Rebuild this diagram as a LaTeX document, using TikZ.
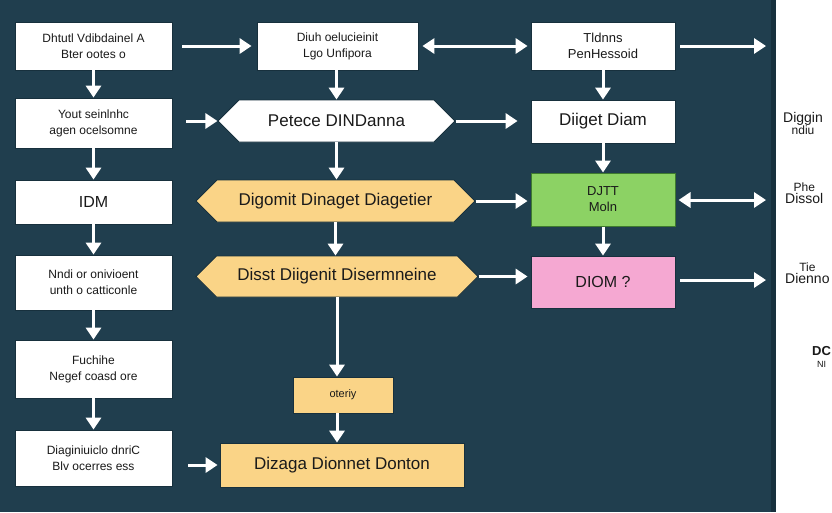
\documentclass[tikz,border=0pt]{standalone}
\usepackage{fontspec}
\setmainfont{Liberation Sans}
\usetikzlibrary{arrows.meta,shapes.symbols}
\definecolor{bgc}{HTML}{203E4E}
\definecolor{bgd}{HTML}{17303D}
\definecolor{yel}{HTML}{FAD487}
\definecolor{grn}{HTML}{8CD264}
\definecolor{grnd}{HTML}{3E7A2E}
\definecolor{pnk}{HTML}{F5A8D2}
\definecolor{txt}{HTML}{1A1A1A}
\tikzset{
  base/.style={inner sep=2pt, align=center, text=txt, font=\fontsize{12}{16}\selectfont},
  wbox/.style={base, rectangle, fill=white, draw=bgd, line width=0.8pt},
  ybox/.style={base, rectangle, fill=yel, draw=bgd, line width=0.8pt},
  yhex/.style={base, signal, signal to=west and east, signal pointer angle=90, fill=yel, draw=bgd, line width=0.8pt},
  whex/.style={yhex, fill=white},
  big/.style={font=\fontsize{17}{20}\selectfont},
  link/.style={draw=white, line width=3pt, -{Triangle[width=15pt,length=12pt]}},
  dlink/.style={draw=white, line width=3pt, {Triangle[width=15pt,length=12pt]}-{Triangle[width=15pt,length=12pt]}},
  rtext/.style={align=center, text=txt, font=\fontsize{14}{12}\selectfont, inner sep=0pt, anchor=west},
}
\begin{document}
\begin{tikzpicture}[x=1pt,y=-1pt]
\useasboundingbox (0,0) rectangle (832,512);
\fill[bgc] (0,0) rectangle (776,512);
\fill[bgd] (771,0) rectangle (776,512);
\fill[white] (776,0) rectangle (832,512);
% left column
\node[wbox, minimum width=157pt, minimum height=48pt] (A1) at (93.5,46) {Dhtutl Vdibdainel A\\Bter ootes o};
\node[wbox, minimum width=157pt, minimum height=50pt] (A2) at (93.5,123) {Yout seinlnhc\\agen ocelsomne};
\node[wbox, minimum width=157pt, minimum height=44pt, font=\fontsize{16}{18}\selectfont] (A3) at (93.5,202) {IDM};
\node[wbox, minimum width=157pt, minimum height=55pt] (A4) at (93.5,282.5) {Nndi or onivioent\\unth o catticonle};
\node[wbox, minimum width=157pt, minimum height=58pt] (A5) at (93.5,369) {Fuchihe\\Negef coasd ore};
\node[wbox, minimum width=157pt, minimum height=56pt] (A6) at (93.5,458) {Diaginiuiclo dnriC\\Blv ocerres ess};
% middle column
\node[wbox, minimum width=161pt, minimum height=48pt] (B1) at (337.5,46) {Diuh oelucieinit\\Lgo Unfipora};
\node[whex, big, minimum width=237pt, minimum height=42pt] (B2) at (336.5,121) {Petece DINDanna};
\node[yhex, big, minimum width=279pt, minimum height=42pt] (B3) at (335.5,201) {Digomit Dinaget Diagetier};
\node[yhex, big, minimum width=282pt, minimum height=41pt] (B4) at (337,276.5) {Disst Diigenit Disermneine};
\node[ybox, minimum width=100pt, minimum height=36pt, font=\fontsize{11}{13}\selectfont] (B5) at (343,395) {oteriy};
\node[ybox, big, minimum width=244pt, minimum height=44pt] (B6) at (342,465) {Dizaga Dionnet Donton};
% right column
\node[wbox, minimum width=144pt, minimum height=48pt, font=\fontsize{13}{16}\selectfont] (C1) at (603,46) {Tldnns\\PenHessoid};
\node[wbox, big, minimum width=144pt, minimum height=43pt] (C2) at (603,121.5) {Diiget Diam};
\node[base, rectangle, fill=grn, draw=grnd, line width=1pt, minimum width=144pt, minimum height=53pt, font=\fontsize{13}{16}\selectfont] (C3) at (603,199.5) {DJTT\\Moln};
\node[base, rectangle, fill=pnk, draw=bgd, line width=0.8pt, minimum width=144pt, minimum height=52pt, font=\fontsize{16}{18}\selectfont] (C4) at (603,282) {DIOM ?};
% free ends
\coordinate (E1) at (766,46);
\coordinate (E3) at (766,200);
\coordinate (E4) at (766,280);
% vertical links
\draw[link] (A1) -- (A2);
\draw[link] (A2) -- (A3);
\draw[link] (A3) -- (A4);
\draw[link] (A4) -- (A5);
\draw[link] (A5) -- (A6);
\draw[link] (B1.south -| B2.north) -- (B2.north);
\draw[link] (B2.south) -- (B2.south |- B3.north);
\draw[link] (B3.south) -- (B3.south |- B4.north);
\draw[link] (B4.south) -- (B4.south |- B5.north);
\draw[link] (B4.south |- B5.south) -- (B4.south |- B6.north);
\draw[link] (C1) -- (C2);
\draw[link] (C2) -- (C3);
\draw[link] (C3) -- (C4);
% horizontal links
\draw[link, shorten <=10pt, shorten >=5pt] (A1.east) -- (B1.west);
\draw[link, shorten <=14pt] (A2.east |- B2.west) -- (B2.west);
\draw[link, shorten <=16pt, shorten >=2pt] (A6.east |- B6.west) -- (B6.west);
\draw[dlink, shorten <=4pt, shorten >=3pt] (B1.east) -- (C1.west);
\draw[link, shorten >=13pt] (B2.east) -- (B2.east -| C2.west);
\draw[link, shorten >=3pt] (B3.east) -- (B3.east -| C3.west);
\draw[link, shorten >=3pt] (B4.east) -- (B4.east -| C4.west);
\draw[link, shorten <=5pt] (C1.east) -- (E1);
\draw[dlink, shorten <=3pt] (C3.east |- E3) -- (E3);
\draw[link, shorten <=5pt] (C4.east |- E4) -- (E4);
% right strip texts
\node[rtext] (R1) at (783,123) {Diggin\\\fontsize{12}{12}\selectfont ndiu};
\node[rtext] (R2) at (785,193) {\fontsize{12}{12}\selectfont Phe\\Dissol};
\node[rtext] (R3) at (785,273) {\fontsize{12}{12}\selectfont Tie\\Dienno};
\node[rtext] (R4) at (812,357) {\fontsize{13}{12}\selectfont\bfseries DC\\\fontsize{9}{12}\selectfont NI};
\end{tikzpicture}
\end{document}
